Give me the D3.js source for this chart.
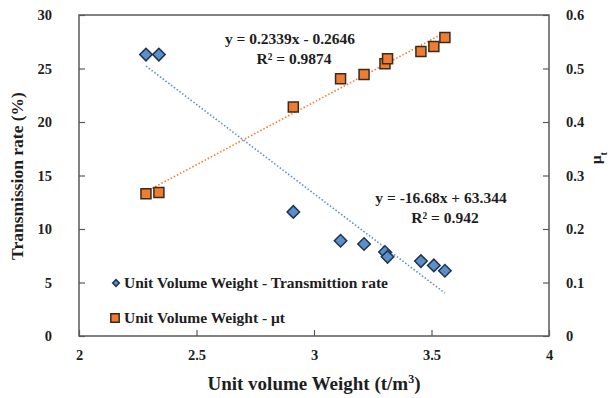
<!DOCTYPE html>
<html>
<head>
<meta charset="utf-8">
<script src="https://cdn.jsdelivr.net/npm/d3@7"></script>
<style>
  html, body { margin: 0; padding: 0; background: #fff; }
  svg text { font-family: "Liberation Serif", "Times New Roman", Times, "DejaVu Serif", serif !important; font-weight: bold; }
</style>
</head>
<body>
<svg id="chart" width="615" height="398"></svg>
<script>
// Unit volume weight (t/m3) for each sample
const unitWeight = [2.285, 2.34, 2.912, 3.113, 3.213, 3.302, 3.313, 3.455, 3.51, 3.557];
// Transmission rate (%) — left axis
const transmission = [26.3, 26.3, 11.6, 8.9, 8.6, 7.85, 7.4, 7.0, 6.6, 6.1];
// μt — right axis
const mu = [0.266, 0.268, 0.428, 0.481, 0.489, 0.509, 0.518, 0.532, 0.541, 0.558];

// Linear trend line coefficients [slope, intercept] and R²
const trendTransmission = [-16.68, 63.344];
const trendMu = [0.2339, -0.2646];
const r2Transmission = 0.942;
const r2Mu = 0.9874;

const xTicks = [2, 2.5, 3, 3.5, 4];
const yLeftTicks = [0, 5, 10, 15, 20, 25, 30];
const yRightTicks = [0, 0.1, 0.2, 0.3, 0.4, 0.5, 0.6];

const legendLabels = ["Unit Volume Weight - Transmittion rate", "Unit Volume Weight - μt"];

const blueFill = "#5b8fc9", blueStroke = "#1f3350";
const orangeFill = "#ee7d31", orangeStroke = "#3a2a1c";
const frameColor = "#595959";
const textColor = "#1e1e1e";

const svg = d3.select("#chart");
const m = { left: 79, right: 549, top: 15, bottom: 336 };

const x = d3.scaleLinear().domain([2, 4]).range([m.left, m.right]);
const yL = d3.scaleLinear().domain([0, 30]).range([m.bottom, m.top]);
const yR = d3.scaleLinear().domain([0, 0.6]).range([m.bottom, m.top]);

// Plot frame
svg.append("rect")
  .attr("x", m.left).attr("y", m.top)
  .attr("width", m.right - m.left).attr("height", m.bottom - m.top)
  .attr("fill", "none").attr("stroke", frameColor).attr("stroke-width", 1.5);

function styleAxis(g) {
  g.select(".domain").remove();
  g.selectAll(".tick line").attr("stroke", frameColor).attr("stroke-width", 1.2);
  g.selectAll(".tick text")
    .attr("fill", textColor)
    .style("font-size", "14.5px");
}

// Axes with inward ticks
svg.append("g")
  .attr("transform", `translate(0,${m.bottom})`)
  .call(d3.axisBottom(x).tickValues(xTicks).tickFormat(d3.format("")).tickSizeInner(-6).tickSizeOuter(0).tickPadding(14))
  .call(styleAxis);

svg.append("g")
  .attr("transform", `translate(${m.left},0)`)
  .call(d3.axisLeft(yL).tickValues(yLeftTicks).tickSizeInner(-6).tickSizeOuter(0).tickPadding(27))
  .call(styleAxis);

svg.append("g")
  .attr("transform", `translate(${m.right},0)`)
  .call(d3.axisRight(yR).tickValues(yRightTicks).tickFormat(d3.format("")).tickSizeInner(-6).tickSizeOuter(0).tickPadding(17))
  .call(styleAxis);

// Axis titles
svg.append("text")
  .attr("x", 314).attr("y", 390)
  .attr("text-anchor", "middle").attr("fill", textColor)
  .style("font-size", "19px")
  .html('Unit volume Weight (t/m<tspan baseline-shift="super" font-size="12px">3</tspan>)');

svg.append("text")
  .attr("transform", `translate(23,176) rotate(-90)`)
  .attr("text-anchor", "middle").attr("fill", textColor)
  .style("font-size", "17.5px")
  .text("Transmission rate (%)");

svg.append("text")
  .attr("transform", `translate(601,158) rotate(-90)`)
  .attr("text-anchor", "middle").attr("fill", textColor)
  .style("font-size", "15px")
  .html('μ<tspan baseline-shift="sub" font-size="10px">t</tspan>');

// Trend lines drawn from their fitted equations over the data range
const xMin = d3.min(unitWeight), xMax = d3.max(unitWeight);
const trendPts = (c) => [xMin, xMax].map(v => [v, c[0] * v + c[1]]);

svg.append("path")
  .datum(trendPts(trendTransmission))
  .attr("d", d3.line().x(d => x(d[0])).y(d => yL(d[1])))
  .attr("fill", "none").attr("stroke", "#5b8fc9").attr("stroke-width", 1.6)
  .attr("stroke-dasharray", "1.5,2");

svg.append("path")
  .datum(trendPts(trendMu))
  .attr("d", d3.line().x(d => x(d[0])).y(d => yR(d[1])))
  .attr("fill", "none").attr("stroke", "#ee7d31").attr("stroke-width", 1.6)
  .attr("stroke-dasharray", "1.5,2");

// Markers: diamonds for transmission rate, squares for μt
svg.append("g").selectAll("path")
  .data(d3.zip(unitWeight, transmission))
  .join("path")
  .attr("d", d3.symbol().type(d3.symbolSquare).size(78))
  .attr("transform", d => `translate(${x(d[0])},${yL(d[1])}) rotate(45)`)
  .attr("fill", blueFill).attr("stroke", blueStroke).attr("stroke-width", 1.5);

svg.append("g").selectAll("path")
  .data(d3.zip(unitWeight, mu))
  .join("path")
  .attr("d", d3.symbol().type(d3.symbolSquare).size(100))
  .attr("transform", d => `translate(${x(d[0])},${yR(d[1])})`)
  .attr("fill", orangeFill).attr("stroke", orangeStroke).attr("stroke-width", 1.5);

// Equation labels
const fmtEq = (c) => `y = ${c[0]}x ${c[1] < 0 ? "-" : "+"} ${Math.abs(c[1])}`;
function eqLabel(cx, cy, c, r2) {
  svg.append("text").attr("x", cx).attr("y", cy).attr("text-anchor", "middle")
    .attr("fill", textColor).style("font-size", "15.5px").text(fmtEq(c));
  svg.append("text").attr("x", cx + 4).attr("y", cy + 20).attr("text-anchor", "middle")
    .attr("fill", textColor).style("font-size", "15.5px").text(`R² = ${r2}`);
}
eqLabel(290, 44, trendMu, r2Mu);
eqLabel(441, 203, trendTransmission, r2Transmission);

// Legend
const leg = svg.append("g");
leg.append("path")
  .attr("d", d3.symbol().type(d3.symbolSquare).size(22))
  .attr("transform", `translate(116,283) rotate(45)`)
  .attr("fill", blueFill).attr("stroke", blueStroke).attr("stroke-width", 1.5);
leg.append("path")
  .attr("d", d3.symbol().type(d3.symbolSquare).size(70))
  .attr("transform", `translate(115,318)`)
  .attr("fill", orangeFill).attr("stroke", orangeStroke).attr("stroke-width", 1.5);
leg.selectAll("text")
  .data(legendLabels)
  .join("text")
  .attr("x", 124).attr("y", (d, i) => 288 + i * 35)
  .attr("fill", textColor).style("font-size", "15.5px")
  .text(d => d);
</script>
</body>
</html>
